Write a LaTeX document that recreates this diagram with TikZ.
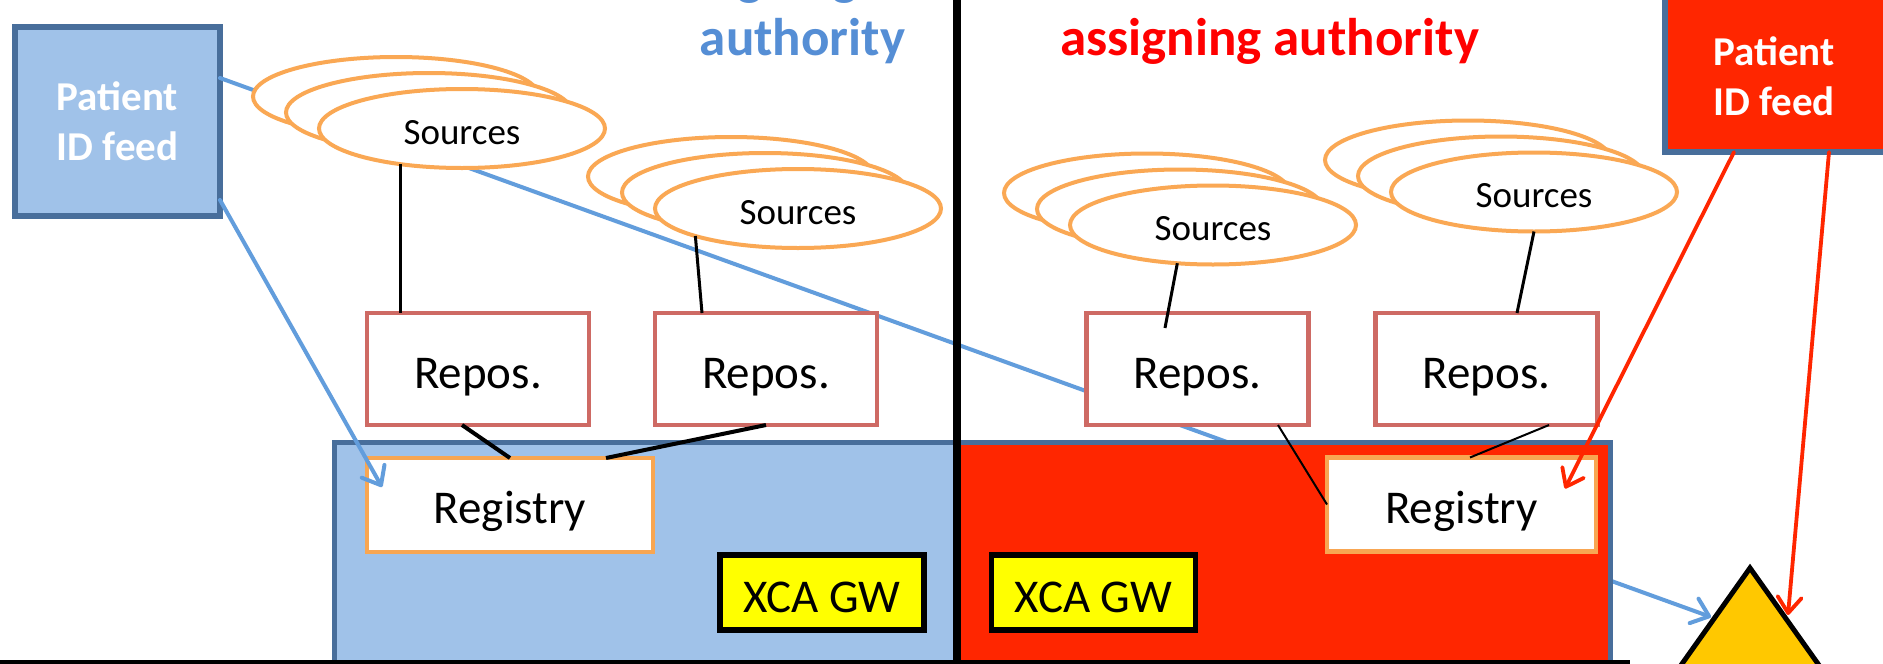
\documentclass[tikz,border=0pt]{standalone}
\usepackage{fontspec}
\setmainfont{Carlito}
\usetikzlibrary{arrows.meta,calc,shapes.geometric}
\definecolor{lblue}{RGB}{160,194,233}
\definecolor{bdblue}{RGB}{72,110,155}
\definecolor{cred}{RGB}{255,38,0}
\definecolor{hblue}{RGB}{85,142,213}
\definecolor{hred}{RGB}{255,0,0}
\definecolor{orng}{RGB}{250,168,84}
\definecolor{repred}{RGB}{206,106,100}
\definecolor{regor}{RGB}{248,166,82}
\definecolor{ylw}{RGB}{255,255,0}
\definecolor{trifill}{RGB}{255,200,0}
\definecolor{arrblue}{RGB}{98,157,220}
\begin{document}
\begin{tikzpicture}[x=1pt,y=-1pt,
  every node/.style={inner sep=0pt,outer sep=0pt},
  feedbox/.style={rectangle,draw=bdblue,line width=6pt},
  feedtext/.style={text=white,font=\fontsize{41}{50}\selectfont\bfseries,align=center},
  src/.style={ellipse,draw=orng,fill=white,line width=4pt,minimum width=286pt,minimum height=79pt,
    font=\fontsize{37}{44}\selectfont,text height=31pt,text depth=0pt},
  repbox/.style={rectangle,draw=repred,fill=white,line width=4.5pt,minimum width=222pt,minimum height=112pt,
    font=\fontsize{47}{56}\selectfont,text height=38pt,text depth=0pt},
  regbox/.style={rectangle,draw=regor,fill=white,line width=4.5pt,minimum height=94pt,
    font=\fontsize{47}{56}\selectfont,text height=37pt,text depth=0pt},
  xcabox/.style={rectangle,draw=black,fill=ylw,line width=5.5pt,minimum width=204pt,minimum height=75pt,
    font=\fontsize{47}{56}\selectfont,text height=39pt,text depth=0pt},
  commbox/.style={draw=bdblue,line width=5pt},
  headtext/.style={font=\fontsize{53}{64}\selectfont\bfseries},
  bluearrow/.style={draw=arrblue,line width=4pt,line cap=round,-{Straight Barb[length=16pt,width=26pt,round]}},
  redarrow/.style={draw=cred,line width=3.8pt,line cap=round,-{Straight Barb[length=16pt,width=24pt,round]}},
  blk/.style={draw=black,line width=3pt},
  blkthick/.style={draw=black,line width=4pt},
  blkthin/.style={draw=black,line width=2pt}
]
\useasboundingbox (0,0) rectangle (1883,664);
\clip (0,0) rectangle (1883,664);
\fill[white] (0,0) rectangle (1883,664);

% triangle
\coordinate (apex) at (1750,568);
\filldraw[fill=trifill,draw=black,line width=5pt,line join=miter] (apex) -- (1640,723) -- (1860,723) -- cycle;
\coordinate (triL) at (1711,617);
\coordinate (triR) at (1788,615);

% left patient ID feed
\node[feedbox,feedtext,fill=lblue,minimum width=205pt,minimum height=189pt] (pfL) at (117.5,121.5) {Patient\\ID feed};

% long blue arrow (behind shapes)
\draw[bluearrow] ($(pfL.north east)+(0,51)$) -- (triL);

% community boxes
\path[commbox,fill=lblue] (334.5,442.5) rectangle (957,720);
\path[commbox,fill=cred] (957,442.5) rectangle (1610.5,720);

% sources stacks
\node[src] (s1c) at (396,96.5) {};
\node[src] (s1b) at (429,112.5) {};
\node[src] (s1) at (462,128.5) {Sources};
\node[src] (s2c) at (731,176.5) {};
\node[src] (s2b) at (765,192.5) {};
\node[src] (s2) at (798,208.5) {Sources};
\node[src] (s3c) at (1147,193) {};
\node[src] (s3b) at (1180,209) {};
\node[src] (s3) at (1213,225) {Sources};
\node[src] (s4c) at (1468,160) {};
\node[src] (s4b) at (1501,176) {};
\node[src] (s4) at (1534,192) {Sources};

% repositories
\node[repbox] (rep1) at (478,369) {Repos.};
\node[repbox] (rep2) at (766,369) {Repos.};
\node[repbox] (rep3) at (1197.5,369) {Repos.};
\node[repbox] (rep4) at (1486.5,369) {Repos.};

% registries
\node[regbox,minimum width=286pt] (regL) at (510,505) {Registry};
\node[regbox,minimum width=269pt] (regR) at (1461.5,504.5) {Registry};

% XCA gateways
\node[xcabox] (xcaL) at (822,592.5) {XCA GW};
\node[xcabox] (xcaR) at (1093.5,592.5) {XCA GW};

% sources -> repositories
\draw[blk] (s1.210) -- (s1.210 |- rep1.north);
\draw[blk] (s2.195) -- ($(rep2.north)+(-64,0)$);
\draw[blk] (s3.227) -- ($(rep3.north)+(-32.5,15)$);
\draw[blk] (s4.south) -- ($(rep4.north)+(30.5,0)$);

% repositories -> registries
\draw[blkthick] ($(rep1.south)+(-16,0)$) -- (regL.north);
\draw[blkthick] (rep2.south) -- ($(regL.north)+(96,0)$);
\draw[blkthin] ($(rep3.south)+(80.5,0)$) -- (regR.west);
\draw[blkthin] ($(rep4.south)+(62.5,0)$) -- ($(regR.north)+(8.5,0)$);

% short blue arrow
\draw[bluearrow] ($(pfL.south east)+(0,-16)$) -- ($(regL.north west)+(15,29)$);

% right patient ID feed
\node[feedbox,fill=cred,minimum width=260pt,minimum height=200pt,anchor=south west] (pfR) at (1665,152) {};
\node[feedtext] (pfRt) at (1774,76) {Patient\\ID feed};
\draw[redarrow] ($(pfR.south west)+(69,0)$) -- ($(regR.north east)+(-31,31)$);
\draw[redarrow] ($(pfR.south west)+(164,0)$) -- (triR);

% divider and bottom line
\draw[line width=8pt] (957,-10) -- (957,680);
\draw[line width=6pt] (-5,663) -- (1630,663);

% headings
\node[headtext,text=hblue,anchor=base west] (hA1) at (656,-6) {assigning};
\node[headtext,text=hblue,anchor=base] (hA2) at (802.5,55) {authority};
\node[headtext,text=hred,anchor=base] (hB) at (1269.5,55) {assigning authority};
\end{tikzpicture}
\end{document}
